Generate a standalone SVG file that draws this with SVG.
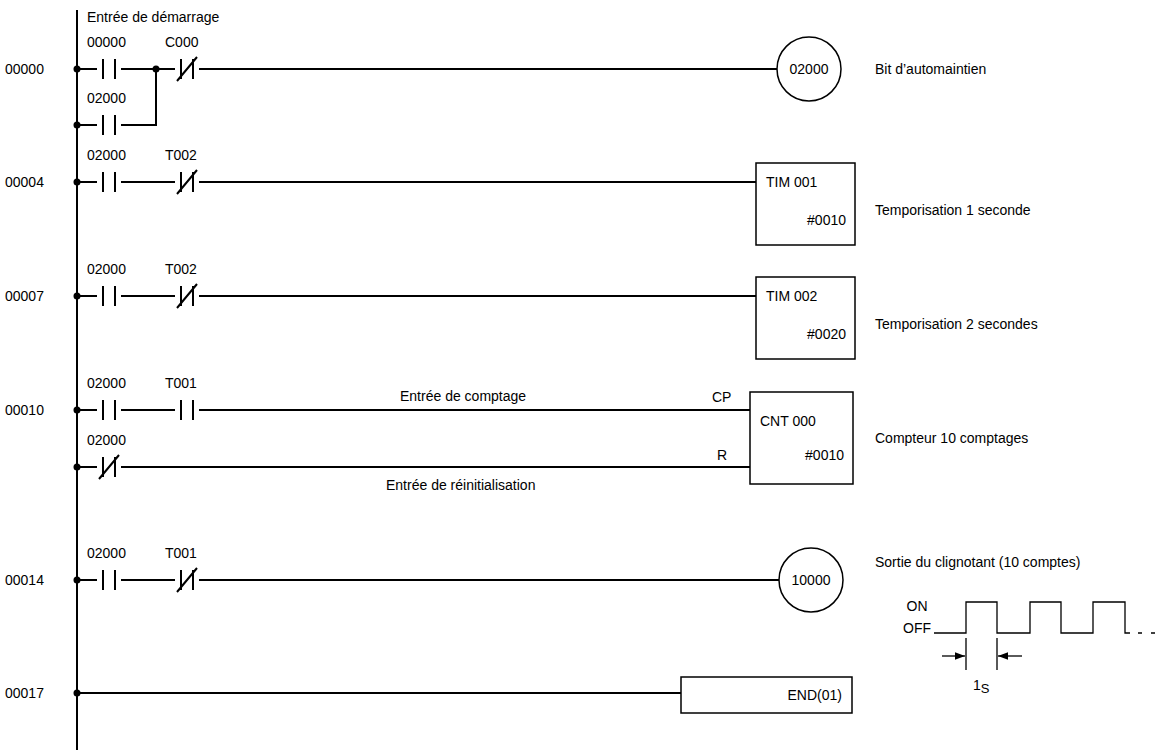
<svg xmlns="http://www.w3.org/2000/svg" width="1165" height="754" viewBox="0 0 1165 754">
<style>
text{font-family:"Liberation Sans",Arial,sans-serif;font-size:14px;fill:#000}
.w{stroke:#000;stroke-width:2;fill:none}
.t{stroke:#000;stroke-width:1.3;fill:none}
.b{stroke:#000;stroke-width:1.5;fill:#fff}
</style>
<defs>
<g id="no"><path class="w" d="M-6,-10V10M6,-10V10" stroke-width="2.5"/></g>
<g id="nc"><path class="w" d="M-6,-10V10M6,-10V10M-10,12L10,-12" stroke-width="2.5"/></g>
<marker id="ar" markerWidth="8" markerHeight="8" refX="8" refY="4" orient="auto"><path d="M0,1L8,4L0,7Z"/></marker>
</defs>
<g id="connectors">
<path class="w" d="M77,10V750"/>
<path class="w" d="M77,69H97M121,69H175M199,69H777M156,69V125H121M97,125H77"/>
<path class="w" d="M77,182H97M121,182H175M199,182H756"/>
<path class="w" d="M77,296H97M121,296H175M199,296H756"/>
<path class="w" d="M77,410H97M121,410H175M199,410H750"/>
<path class="w" d="M77,467H97M121,467H750"/>
<path class="w" d="M77,580H97M121,580H175M199,580H779"/>
<path class="w" d="M77,693H681"/>
<circle cx="77" cy="69" r="3.5"/><circle cx="77" cy="125" r="3.5"/><circle cx="156" cy="69" r="3.5"/>
<circle cx="77" cy="182" r="3.5"/><circle cx="77" cy="296" r="3.5"/><circle cx="77" cy="410" r="3.5"/>
<circle cx="77" cy="467" r="3.5"/><circle cx="77" cy="580" r="3.5"/><circle cx="77" cy="693" r="3.5"/>
</g>
<g id="contacts">
<use href="#no" x="109" y="69"/><use href="#nc" x="187" y="69"/><use href="#no" x="109" y="125"/>
<use href="#no" x="109" y="182"/><use href="#nc" x="187" y="182"/>
<use href="#no" x="109" y="296"/><use href="#nc" x="187" y="296"/>
<use href="#no" x="109" y="410"/><use href="#no" x="187" y="410"/>
<use href="#nc" x="109" y="467"/>
<use href="#no" x="109" y="580"/><use href="#nc" x="187" y="580"/>
</g>
<g id="labels">
<text x="87" y="22">Entrée de démarrage</text>
<text x="87" y="47">00000</text><text x="165" y="47">C000</text><text x="87" y="103">02000</text>
<text x="87" y="160">02000</text><text x="165" y="160">T002</text>
<text x="87" y="274">02000</text><text x="165" y="274">T002</text>
<text x="87" y="388">02000</text><text x="165" y="388">T001</text>
<text x="87" y="445">02000</text>
<text x="87" y="558">02000</text><text x="165" y="558">T001</text>
<text x="5" y="74">00000</text><text x="5" y="187">00004</text><text x="5" y="301">00007</text>
<text x="5" y="415">00010</text><text x="5" y="585">00014</text><text x="5" y="698">00017</text>
<text x="400" y="401">Entrée de comptage</text>
<text x="386" y="490">Entrée de réinitialisation</text>
<text x="712" y="402">CP</text><text x="717" y="460">R</text>
</g>
<g id="coil1"><circle class="b" cx="809" cy="69" r="32"/><text x="809" y="74" text-anchor="middle">02000</text><text x="875" y="74">Bit d’automaintien</text></g>
<g id="tim1"><rect class="b" x="756" y="163" width="99" height="82"/><text x="766" y="187">TIM 001</text><text x="846" y="225" text-anchor="end">#0010</text><text x="875" y="215">Temporisation 1 seconde</text></g>
<g id="tim2"><rect class="b" x="756" y="277" width="99" height="82"/><text x="766" y="301">TIM 002</text><text x="846" y="339" text-anchor="end">#0020</text><text x="875" y="329">Temporisation 2 secondes</text></g>
<g id="cnt"><rect class="b" x="750" y="392" width="103" height="92"/><text x="760" y="426">CNT 000</text><text x="844" y="460" text-anchor="end">#0010</text><text x="875" y="443">Compteur 10 comptages</text></g>
<g id="coil2"><circle class="b" cx="811" cy="580" r="32"/><text x="811" y="585" text-anchor="middle">10000</text><text x="875" y="567">Sortie du clignotant (10 comptes)</text></g>
<g id="end"><rect class="b" x="681" y="677" width="171" height="36"/><text x="842" y="700" text-anchor="end">END(01)</text></g>
<g id="wave">
<text x="917" y="611" font-size="11" text-anchor="middle">ON</text><text x="917" y="633" font-size="11" text-anchor="middle">OFF</text>
<path class="t" d="M934,633H966V602H997V633H1030V602H1061V633H1093V602H1125V633H1130"/>
<path class="t" d="M1138,633H1142M1151,633H1155" />
<path class="t" d="M966,638V670M997,638V670"/>
<path class="t" d="M942,656H965" marker-end="url(#ar)"/><path class="t" d="M1022,656H998" marker-end="url(#ar)"/>
<text x="973" y="690" font-size="13">1<tspan font-size="13" dy="3">S</tspan></text>
</g>
</svg>
